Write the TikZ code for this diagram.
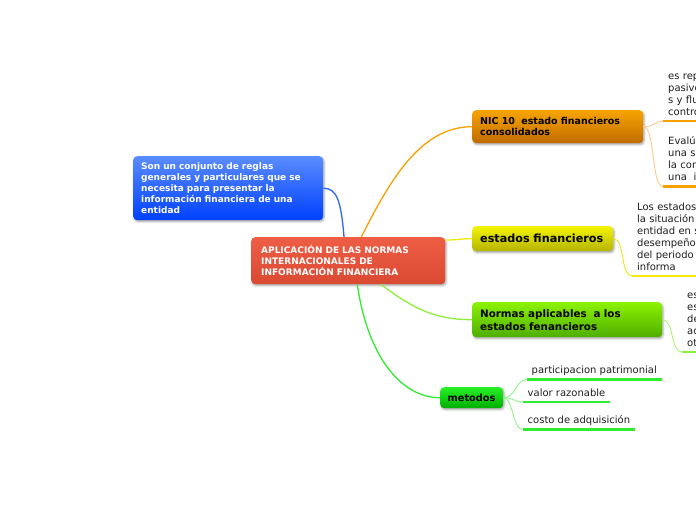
\documentclass[tikz,border=0pt]{standalone}
\usepackage{fontspec}
\setmainfont{DejaVu Sans}
\usetikzlibrary{shadows.blur}
\definecolor{ink}{HTML}{1E1E1E}
\definecolor{rootA}{HTML}{EE5E45}
\definecolor{rootB}{HTML}{DA4A33}
\definecolor{blueA}{HTML}{5A8CFF}
\definecolor{blueB}{HTML}{0040FF}
\definecolor{nicA}{HTML}{F7A400}
\definecolor{nicB}{HTML}{C06C00}
\definecolor{estA}{HTML}{F4F400}
\definecolor{estB}{HTML}{B4B400}
\definecolor{normA}{HTML}{8CF200}
\definecolor{normB}{HTML}{4EAE00}
\definecolor{metA}{HTML}{26F026}
\definecolor{metB}{HTML}{00AE00}
\definecolor{bluewire}{HTML}{2F62FF}
\definecolor{orangewire}{HTML}{F7A000}
\definecolor{yellowwire}{HTML}{EAEA10}
\definecolor{limewire}{HTML}{8EEF3A}
\definecolor{greenwire}{HTML}{30EC30}
\tikzset{
  topic/.style={rounded corners=4pt, inner xsep=8pt, inner ysep=0pt, align=left, anchor=north west,
                blur shadow={shadow xshift=1pt, shadow yshift=-1.5pt, shadow blur radius=2pt, shadow opacity=35}},
  leaf/.style={inner xsep=5pt, inner ysep=2pt, align=left, anchor=south west, text=ink,
               font=\fontsize{10}{12}\selectfont, execute at end node=\strut},
  under/.style={line width=2.6pt},
  branch/.style={line width=1.3pt},
  twig/.style={line width=0.9pt}
}

\begin{document}
\begin{tikzpicture}[x=1pt, y=-1pt]
  \useasboundingbox (0,0) rectangle (696,520);
  \clip (0,0) rectangle (696,520);

  %% Main topics
  \node[topic, top color=rootA, bottom color=rootB, text=white, inner xsep=10pt, text width=174pt,
        minimum height=47pt, font=\bfseries\fontsize{9}{11}\selectfont] (root) at (251,237)
        {APLICACIÓN DE LAS NORMAS\\INTERNACIONALES DE\\INFORMACIÓN FINANCIERA};
  \node[topic, top color=blueA, bottom color=blueB, text=white, text width=174pt,
        minimum height=64pt, font=\bfseries\fontsize{9}{11.2}\selectfont] (concept) at (133,156)
        {Son un conjunto de reglas\\generales y particulares que se\\necesita para presentar la\\información financiera de una\\entidad};
  \node[topic, top color=nicA, bottom color=nicB, text=black, text width=155pt,
        minimum height=33pt, font=\bfseries\fontsize{9.5}{11}\selectfont] (nic) at (472,110)
        {NIC 10\ \ estado financieros\\consolidados};
  \node[topic, top color=estA, bottom color=estB, text=black, text width=125pt,
        minimum height=25pt, font=\bfseries\fontsize{11.2}{13}\selectfont] (estados) at (472,226)
        {estados financieros};
  \node[topic, top color=normA, bottom color=normB, text=black, text width=174pt,
        minimum height=35pt, font=\bfseries\fontsize{10.3}{13}\selectfont] (normas) at (472,302)
        {Normas aplicables\ \ a los\\estados fenancieros};
  \node[topic, top color=metA, bottom color=metB, text=black, inner xsep=7.5pt, text width=48pt,
        minimum height=21pt, font=\bfseries\fontsize{9.8}{12}\selectfont] (metodos) at (440,387)
        {metodos};

  %% Leaves
  \node[leaf, text width=40pt] (nicL1) at (663,121) {es rep\\pasivo\\s y flu\\contro};
  \node[leaf, text width=40pt] (nicL2) at (663,186.5) {Evalú\\una s\\la con\\una\ \ i};
  \node[leaf, text width=70pt] (estL) at (632,276) {Los estados\\la situación\\entidad en s\\desempeño\\del periodo\\informa};
  \node[leaf, text width=20pt] (normL) at (682,352) {es\\es\\de\\ac\\ot};
  \node[leaf] (metL1) at (526.5,379.5) {participacion patrimonial};
  \node[leaf] (metL2) at (522.5,402) {valor razonable};
  \node[leaf] (metL3) at (522.5,429.5) {costo de adquisición};

  \draw[under, orangewire] (nicL1.south west) -- (nicL1.south east);
  \draw[under, orangewire] (nicL2.south west) -- (nicL2.south east);
  \draw[under, yellow!95!black] (estL.south west) -- (estL.south east);
  \draw[under, limewire] (normL.south west) -- (normL.south east);
  \draw[under, greenwire] (metL1.south west) -- (metL1.south east);
  \draw[under, greenwire] (metL2.south west) -- (metL2.south east);
  \draw[under, greenwire] (metL3.south west) -- (metL3.south east);

  %% Branches
  \draw[branch, bluewire] (root.100) .. controls +(-3,-35) and +(14,0) .. (concept.east);
  \draw[branch, orangewire] (root.61) .. controls +(30,-60) and +(-50,0) .. (nic.west);
  \draw[branch, yellowwire] (root.12) .. controls +(12,0) and +(-12,0) .. (estados.west);
  \draw[branch, limewire] (root.-36) .. controls +(30,22) and +(-40,0) .. (normas.west);
  \draw[branch, greenwire] (root.-69) .. controls +(10,70) and +(-40,0) .. (metodos.west);

  %% Twigs
  \draw[twig, orange!45] (nic.east) .. controls +(12,0) and +(-8,0) .. (nicL1.south west);
  \draw[twig, orange!45] (nic.east) .. controls +(12,0) and +(-12,0) .. (nicL2.south west);
  \draw[twig, yellowwire] (estados.east) .. controls +(12,0) and +(-12,0) .. (estL.south west);
  \draw[twig, limewire!70] (normas.east) .. controls +(12,0) and +(-12,0) .. (normL.south west);
  \draw[twig, greenwire!55] (metodos.east) .. controls +(12,0) and +(-10,0) .. (metL1.south west);
  \draw[twig, greenwire!55] (metodos.east) .. controls +(10,0) and +(-8,0) .. (metL2.south west);
  \draw[twig, greenwire!55] (metodos.east) .. controls +(10,0) and +(-10,0) .. (metL3.south west);

\end{tikzpicture}
\end{document}
